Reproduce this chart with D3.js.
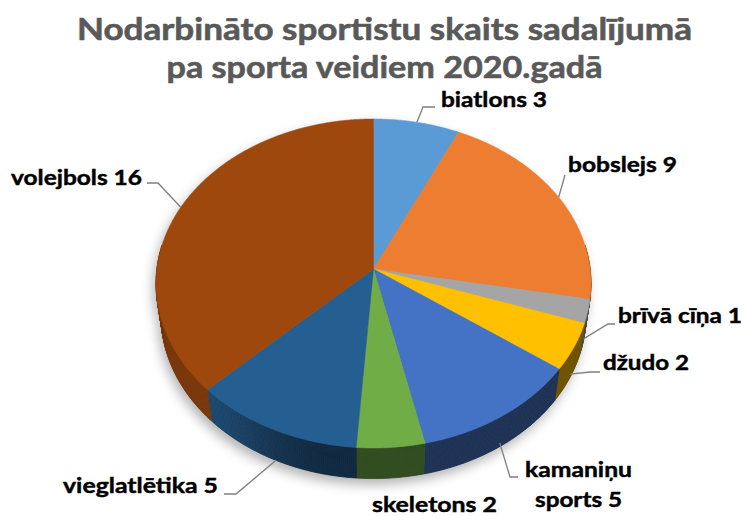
<!DOCTYPE html>
<html>
<head>
<meta charset="utf-8">
<script src="https://cdn.jsdelivr.net/npm/d3@7"></script>
<style>
  body { margin: 0; background: #fff; }
  svg { display: block; }
  .title { font-family: Lato, "Open Sans", sans-serif; font-weight: 700; fill: #595959; stroke: #595959; stroke-width: 0.6px; }
  .lbl { font-family: Lato, "Open Sans", sans-serif; font-weight: 700; fill: #000; stroke: #000; stroke-width: 0.45px; }
</style>
</head>
<body>
<div id="chart"></div>
<script>
// Data
var sports = ["biatlons", "bobslejs", "brīvā cīņa", "džudo", "kamaniņu sports", "skeletons", "vieglatlētika", "volejbols"];
var counts = [3, 9, 1, 2, 5, 2, 5, 16];
var colors = ["#5B9BD5", "#ED7D31", "#A5A5A5", "#FFC000", "#4472C4", "#70AD47", "#255E91", "#9E480E"];
var titleLines = ["Nodarbināto sportistu skaits sadalījumā", "pa sporta veidiem 2020.gadā"];

var svgWidth = 745;
var svgHeight = 516;

// 3D view of the pie (perspective)
var view = { cx: 373.5, cy: 269, scale: 216.6, tilt: 48.9 * Math.PI / 180, dist: 7.47, depth: 0.23 };
var sinA = Math.sin(view.tilt), cosA = Math.cos(view.tilt);

function project(theta, h) {
  var u = Math.sin(theta), v = Math.cos(theta);
  var w = 1 + (v * cosA - h * sinA) / view.dist;
  return [view.cx + view.scale * u / w, view.cy - view.scale * (v * sinA + h * cosA) / w];
}

// shade factor of the side wall, lit from the lower left
function shade(t) {
  var deg = t * 180 / Math.PI;
  var s = Math.min(1, Math.max(0, (deg - 190) / 38));
  s = s * s * (3 - 2 * s);
  var f = 0.44 + 0.33 * s;
  if (deg > 250) f -= 0.1 * Math.min(1, (deg - 250) / 20);
  return f;
}

// label placement (text left x, baseline y, width, leader elbow points, anchor depth on the pie)
var labelLayout = [
  { x: 441, y: 107, w: 106, leader: [[435, 107], [423, 107]], h: 0 },
  { x: 568, y: 172, w: 109, leader: [[565, 175]], h: 0 },
  { x: 618, y: 323, w: 124, leader: [[615, 324], [608, 324]], h: -0.2 },
  { x: 603, y: 370, w: 86, leader: [[600, 372], [590, 372]], h: -0.2 },
  { x: 525, y: 477, w: 107, lines: [["kamaniņu", 525, 477, 107], ["sports 5", 535, 507, 87]], leader: [[518, 477], [510, 477]], h: -0.2 },
  { x: 372, y: 512, w: 125, leader: null, h: 0 },
  { x: 63, y: 493, w: 155, leader: [[224, 494], [236, 494]], h: -0.23 },
  { x: 11, y: 185, w: 131, leader: [[147, 183], [158, 183]], h: 0 }
];

var svg = d3.select("#chart")
  .append("svg")
  .attr("width", svgWidth)
  .attr("height", svgHeight);

var defs = svg.append("defs");
defs.append("filter")
  .attr("id", "soft")
  .attr("x", "-20%").attr("y", "-20%").attr("width", "140%").attr("height", "140%")
  .append("feGaussianBlur")
  .attr("stdDeviation", 6);

var arcs = d3.pie().sort(null).value(d => d)(counts);
var line = d3.line();
var step = Math.PI / 360;

function ring(h) {
  return d3.range(0, 2 * Math.PI + step, step).map(t => project(t, h));
}

// soft shadow under the pie
var shadow = svg.append("g")
  .attr("filter", "url(#soft)")
  .attr("transform", "translate(-3, 6)")
  .attr("opacity", 0.45);
shadow.append("path").attr("d", line(ring(0)) + "Z").attr("fill", "#555");
shadow.append("path").attr("d", line(ring(-view.depth)) + "Z").attr("fill", "#555");

// side walls (front facing only)
var sideGroup = svg.append("g");
arcs.forEach(function(a, i) {
  var base = d3.rgb(colors[i]);
  var n = Math.max(1, Math.ceil((a.endAngle - a.startAngle) / step));
  for (var k = 0; k < n; k++) {
    var t0 = a.startAngle + (a.endAngle - a.startAngle) * k / n;
    var t1 = a.startAngle + (a.endAngle - a.startAngle) * (k + 1) / n;
    var tm = (t0 + t1) / 2;
    if (Math.cos(tm) > 0.15) continue;
    var f = shade(tm);
    var c = d3.rgb(base.r * f, base.g * f, base.b * f).formatHex();
    var pts = [project(t0, 0), project(t1, 0), project(t1, -view.depth), project(t0, -view.depth)];
    sideGroup.append("path")
      .attr("d", line(pts) + "Z")
      .attr("fill", c)
      .attr("stroke", c)
      .attr("stroke-width", 0.8);
  }
});

// top faces
var topGroup = svg.append("g");
topGroup.selectAll("path")
  .data(arcs)
  .enter()
  .append("path")
  .attr("d", function(a) {
    var pts = [[view.cx, view.cy]];
    var n = Math.max(2, Math.ceil((a.endAngle - a.startAngle) / step));
    for (var k = 0; k <= n; k++) {
      pts.push(project(a.startAngle + (a.endAngle - a.startAngle) * k / n, 0));
    }
    return line(pts) + "Z";
  })
  .attr("fill", (a, i) => colors[i])
  .attr("stroke", (a, i) => colors[i])
  .attr("stroke-width", 0.5);

// leader lines
var leaderGroup = svg.append("g");
arcs.forEach(function(a, i) {
  var L = labelLayout[i];
  if (!L.leader) return;
  var anchor = project((a.startAngle + a.endAngle) / 2, L.h);
  leaderGroup.append("path")
    .attr("d", line(L.leader.concat([anchor])))
    .attr("fill", "none")
    .attr("stroke", "#7F7F7F")
    .attr("stroke-width", 1.3);
});

// data labels
var labelGroup = svg.append("g");
arcs.forEach(function(a, i) {
  var L = labelLayout[i];
  var lines = L.lines || [[sports[i] + " " + counts[i], L.x, L.y, L.w]];
  lines.forEach(function(ln) {
    labelGroup.append("text")
      .attr("class", "lbl")
      .attr("x", ln[1])
      .attr("y", ln[2])
      .attr("font-size", 21)
      .attr("textLength", ln[3])
      .attr("lengthAdjust", "spacingAndGlyphs")
      .text(ln[0]);
  });
});

// title
var titleGroup = svg.append("g");
var titleWidths = [615, 436];
var titleBase = [40, 78];
titleLines.forEach(function(t, i) {
  titleGroup.append("text")
    .attr("class", "title")
    .attr("x", 384.5)
    .attr("y", titleBase[i])
    .attr("text-anchor", "middle")
    .attr("font-size", 31)
    .attr("textLength", titleWidths[i])
    .attr("lengthAdjust", "spacingAndGlyphs")
    .text(t);
});
</script>
</body>
</html>
